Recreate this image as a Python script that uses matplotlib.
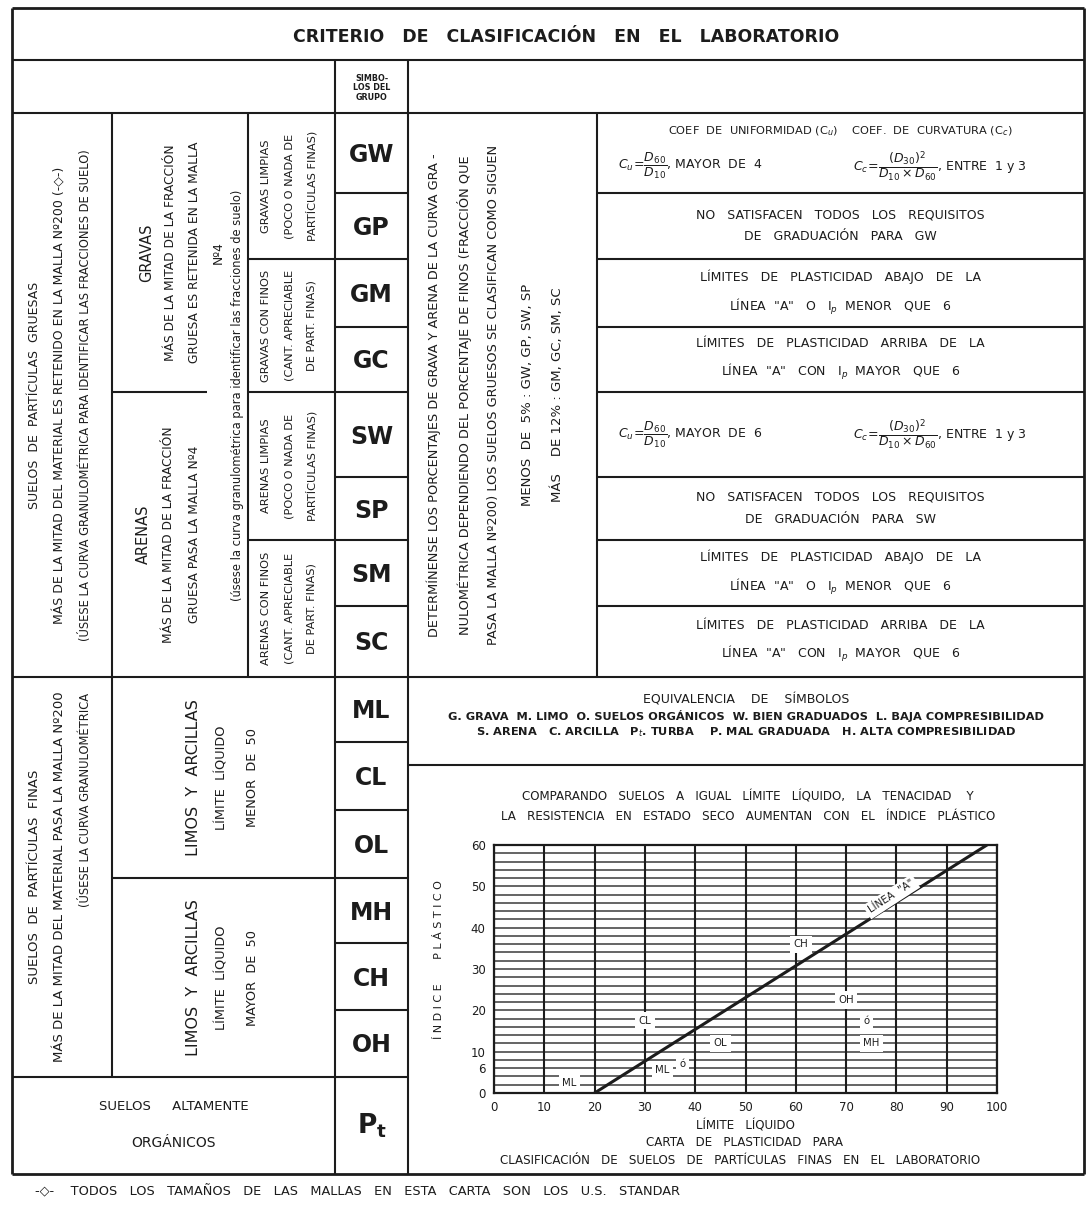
import matplotlib.pyplot as plt

W, H = 1086, 1206
ink = "#1c1c1c"

# ---- table content ----
title = "CRITERIO   DE   CLASIFICACIÓN   EN   EL   LABORATORIO"
symbol_header = "SIMBO-\nLOS DEL\nGRUPO"

coarse_symbols = ["GW", "GP", "GM", "GC", "SW", "SP", "SM", "SC"]
fine_symbols = ["ML", "CL", "OL", "MH", "CH", "OH"]
organic_symbol = r"P$_\mathregular{t}$"

coarse_col0 = ["SUELOS  DE  PARTÍCULAS  GRUESAS",
               "MÁS DE LA MITAD DEL MATERIAL ES RETENIDO EN LA MALLA Nº200 (-◇-)",
               "(ÚSESE LA CURVA GRANULOMÉTRICA PARA IDENTIFICAR LAS FRACCIONES DE SUELO)"]
gravel_text = ["GRAVAS", "MÁS DE LA MITAD DE LA FRACCIÓN",
               "GRUESA ES RETENIDA EN LA MALLA", "Nº4"]
sand_text = ["ARENAS", "MÁS DE LA MITAD DE LA FRACCIÓN", "GRUESA PASA LA MALLA Nº4"]
shared_note = "(úsese la curva granulométrica para identificar las fracciones de suelo)"
subgroups = [["GRAVAS LIMPIAS", "(POCO O NADA DE", "PARTÍCULAS FINAS)"],
             ["GRAVAS CON FINOS", "(CANT. APRECIABLE", "DE PART. FINAS)"],
             ["ARENAS LIMPIAS", "(POCO O NADA DE", "PARTÍCULAS FINAS)"],
             ["ARENAS CON FINOS", "(CANT. APRECIABLE", "DE PART. FINAS)"]]
fines_rule = ["DETERMÍNENSE LOS PORCENTAJES DE GRAVA Y ARENA DE LA CURVA GRA -",
              "NULOMÉTRICA DEPENDIENDO DEL PORCENTAJE DE FINOS (FRACCIÓN QUE",
              "PASA LA MALLA Nº200) LOS SUELOS GRUESOS SE CLASIFICAN COMO SIGUEN",
              "MENOS  DE  5% : GW, GP, SW, SP",
              "MÁS    DE 12% : GM, GC, SM, SC"]

grad_head = "COEF  DE  UNIFORMIDAD (C$_u$)    COEF.  DE  CURVATURA (C$_c$)"
cu_gravel = r"$C_u\!=\!\dfrac{D_{60}}{D_{10}}$, MAYOR  DE  4"
cu_sand = r"$C_u\!=\!\dfrac{D_{60}}{D_{10}}$, MAYOR  DE  6"
cc_text = r"$C_c\!=\!\dfrac{(D_{30})^2}{D_{10}\times D_{60}}$, ENTRE  1 y 3"
no_grad = "NO   SATISFACEN   TODOS   LOS   REQUISITOS\nDE   GRADUACIÓN   PARA   {}"
below_a = "LÍMITES   DE   PLASTICIDAD   ABAJO   DE   LA\nLÍNEA  \"A\"   O   I$_p$  MENOR   QUE   6"
above_a = "LÍMITES   DE   PLASTICIDAD   ARRIBA   DE   LA\nLÍNEA  \"A\"   CON   I$_p$  MAYOR   QUE   6"

fine_col0 = ["SUELOS  DE  PARTÍCULAS  FINAS",
             "MÁS DE LA MITAD DEL MATERIAL PASA LA MALLA Nº200",
             "(ÚSESE LA CURVA GRANULOMÉTRICA"]
low_ll = ["LIMOS  Y  ARCILLAS", "LÍMITE  LÍQUIDO", "MENOR  DE  50"]
high_ll = ["LIMOS  Y  ARCILLAS", "LÍMITE  LÍQUIDO", "MAYOR  DE  50"]
organic_text = ["SUELOS     ALTAMENTE", "ORGÁNICOS"]

equiv_title = "EQUIVALENCIA    DE    SÍMBOLOS"
equiv_rows = ["G. GRAVA  M. LIMO  O. SUELOS ORGÁNICOS  W. BIEN GRADUADOS  L. BAJA COMPRESIBILIDAD",
              "S. ARENA   C. ARCILLA   P$_t$. TURBA    P. MAL GRADUADA   H. ALTA COMPRESIBILIDAD"]
chart_note = ["COMPARANDO   SUELOS   A   IGUAL   LÍMITE   LÍQUIDO,   LA   TENACIDAD    Y",
              "LA   RESISTENCIA   EN   ESTADO   SECO   AUMENTAN   CON   EL   ÍNDICE   PLÁSTICO"]
chart_caption = ["LÍMITE   LÍQUIDO", "CARTA   DE   PLASTICIDAD   PARA",
                 "CLASIFICACIÓN   DE   SUELOS   DE   PARTÍCULAS   FINAS   EN   EL   LABORATORIO"]
footnote = "-◇-    TODOS   LOS   TAMAÑOS   DE   LAS   MALLAS   EN   ESTA   CARTA   SON   LOS   U.S.   STANDAR"

# ---- plasticity chart content ----
ll_ticks = [0, 10, 20, 30, 40, 50, 60, 70, 80, 90, 100]
pi_ticks = [0, 6, 10, 20, 30, 40, 50, 60]
aline_ll = [20, 98]
aline_pi = [0, 60]
zone_names = ["CL", "CH", "OH", "ó", "MH", "OL", "ML", "ó", "ML"]
zone_ll = [30, 61, 70, 74, 75, 45, 33.5, 37.5, 15]
zone_pi = [17.5, 36, 22.5, 17.5, 12, 12, 5.5, 7, 2.5]

# ---- layout (pixels) ----
top, title_bot, head_bot = 8, 60, 113
coarse_rows = [113, 193, 259, 327, 392, 477, 540, 606, 677]
fine_rows = [677, 742, 810, 878, 943, 1010, 1077]
bottom = 1174
xl, x1, x2, xs0, xs1, xc, xr = 12, 112, 248, 335, 408, 597, 1084
equiv_bot = 765

fig = plt.figure(figsize=(W / 100, H / 100), dpi=100)
ax = fig.add_axes([0, 0, 1, 1])
ax.set_xlim(0, W)
ax.set_ylim(H, 0)
ax.axis("off")


def hline(y, a, b, lw=1.5):
    ax.plot([a, b], [y, y], color=ink, lw=lw, solid_capstyle="butt")


def vline(x, a, b, lw=1.5):
    ax.plot([x, x], [a, b], color=ink, lw=lw, solid_capstyle="butt")


def txt(x, y, s, size=8, rot=0, weight="normal", **kw):
    ax.text(x, y, s, fontsize=size, rotation=rot, ha="center", va="center",
            color=ink, fontweight=weight, **kw)


# frame and grid of the table
hline(top, xl, xr, 2)
hline(title_bot, xl, xr)
hline(head_bot, xl, xr)
hline(fine_rows[0], xl, xr)
hline(bottom, xl, xr, 2)
vline(xl, top, bottom, 2)
vline(xr, top, bottom, 2)
vline(x1, head_bot, fine_rows[-1])
vline(x2, head_bot, fine_rows[0])
vline(xs0, title_bot, bottom)
vline(xs1, title_bot, bottom)
vline(xc, head_bot, fine_rows[0])
for y in coarse_rows[1:-1]:
    hline(y, xs0, xs1)
    hline(y, xc, xr)
for y in [coarse_rows[2], coarse_rows[6]]:
    hline(y, x2, xs0)
hline(coarse_rows[4], x1, 207)
hline(coarse_rows[4], x2, xs0)
for y in fine_rows[1:]:
    hline(y, xs0, xs1)
hline(fine_rows[3], x1, xs0)
hline(fine_rows[-1], xl, xs0)
hline(equiv_bot, xs1, xr)

# title and header
txt(566, 37, title, 12.5, weight="bold")
txt((xs0 + xs1) / 2, 88, symbol_header, 5.8, weight="bold", linespacing=1.1)

# symbols
for i, s in enumerate(coarse_symbols):
    txt((xs0 + xs1) / 2, (coarse_rows[i] + coarse_rows[i + 1]) / 2 + 2, s, 17, weight="bold")
for i, s in enumerate(fine_symbols):
    txt((xs0 + xs1) / 2, (fine_rows[i] + fine_rows[i + 1]) / 2 + 2, s, 17, weight="bold")
txt((xs0 + xs1) / 2, (fine_rows[-1] + bottom) / 2, organic_symbol, 19, weight="bold")

# coarse soils, rotated texts
cmid = (coarse_rows[0] + coarse_rows[-1]) / 2
for x, s, f in zip([35, 60, 86], coarse_col0, [9, 9, 8.3]):
    txt(x, cmid, s, f, 90)
gmid = (coarse_rows[0] + coarse_rows[4]) / 2
for x, s, f in zip([147, 171, 195, 218], gravel_text, [10.5, 8.8, 8.8, 8.8]):
    txt(x, gmid, s, f, 90)
smid = (coarse_rows[4] + coarse_rows[-1]) / 2
for x, s, f in zip([143, 169, 195], sand_text, [10.5, 8.8, 8.8]):
    txt(x, smid, s, f, 90)
txt(238, cmid, shared_note, 8.3, 90)
spans = [(0, 2), (2, 4), (4, 6), (6, 8)]
for (a, b), lines in zip(spans, subgroups):
    ym = (coarse_rows[a] + coarse_rows[b]) / 2
    for x, s in zip([266, 289, 312], lines):
        txt(x, ym, s, 8.2, 90)
for x, s, f in zip([434, 464, 494, 527, 557], fines_rule, [9.3, 9.3, 9.3, 9.5, 9.5]):
    txt(x, cmid, s, f, 90)

# coarse soils, criteria column
xm = (xc + xr) / 2
for i, s in enumerate(coarse_symbols):
    a, b = coarse_rows[i], coarse_rows[i + 1]
    ym = (a + b) / 2
    if s == "GW":
        txt(xm, a + 18, grad_head, 8.2)
        txt(690, a + 53, cu_gravel, 9)
        txt(940, a + 53, cc_text, 9)
    elif s == "SW":
        txt(690, ym, cu_sand, 9)
        txt(940, ym, cc_text, 9)
    elif s in ("GP", "SP"):
        txt(xm, ym, no_grad.format("GW" if s == "GP" else "SW"), 9, linespacing=1.9)
    elif s in ("GM", "SM"):
        txt(xm, ym, below_a, 9, linespacing=1.9)
    else:
        txt(xm, ym, above_a, 9, linespacing=1.9)

# fine soils
fmid = (fine_rows[0] + fine_rows[-1]) / 2
for x, s, f in zip([35, 60, 86], fine_col0, [9.5, 9.5, 8.3]):
    y = fmid if x != 86 else 800
    txt(x, y, s, f, 90)
lmid = (fine_rows[0] + fine_rows[3]) / 2
hmid = (fine_rows[3] + fine_rows[-1]) / 2
for x, a, b, f in zip([193, 222, 252], low_ll, high_ll, [11.5, 9.3, 9.3]):
    txt(x, lmid, a, f, 90)
    txt(x, hmid, b, f, 90)
txt((xl + xs0) / 2, 1106, organic_text[0], 9.5)
txt((xl + xs0) / 2, 1143, organic_text[1], 10)

# symbol equivalences
emid = (xs1 + xr) / 2
txt(emid, 700, equiv_title, 9)
txt(emid, 716, equiv_rows[0], 8.2, weight="bold")
txt(emid, 732, equiv_rows[1], 8.2, weight="bold")

# chart notes
txt(748, 797, chart_note[0], 8.6)
txt(748, 817, chart_note[1], 8.6)
txt(745, 1126, chart_caption[0], 8.6)
txt(745, 1143, chart_caption[1], 8.6)
txt(740, 1160, chart_caption[2], 8.6)
txt(439, 960, "Í N D I C E       P L Á S T I C O", 8, 90)
ax.text(35, 1192, footnote, fontsize=9.3, ha="left", va="center", color=ink)

# plasticity chart
cx0, cx1, cy0, cy1 = 494, 997, 845, 1093
cax = fig.add_axes([cx0 / W, 1 - cy1 / H, (cx1 - cx0) / W, (cy1 - cy0) / H])
cax.set_xlim(0, 100)
cax.set_ylim(0, 60)
for y in range(0, 61, 2):
    cax.axhline(y, color="#3a3a3a", lw=1.1, zorder=1)
for x in ll_ticks:
    cax.axvline(x, color=ink, lw=1.5, zorder=1)
cax.plot(aline_ll, aline_pi, color=ink, lw=2.2, zorder=3)
for name, x, y in zip(zone_names, zone_ll, zone_pi):
    cax.text(x, y, name, fontsize=7.3, ha="center", va="center", color=ink, zorder=4,
             bbox=dict(boxstyle="square,pad=0.35", fc="white", ec="none"))
cax.text(79, 47.5, 'LÍNEA  "A"', fontsize=7.3, rotation=33, rotation_mode="anchor",
         ha="center", va="center", color=ink, zorder=4,
         bbox=dict(boxstyle="square,pad=0.3", fc="white", ec="none"))
cax.set_xticks(ll_ticks)
cax.set_yticks(pi_ticks)
cax.tick_params(length=0, labelsize=8.5, colors=ink, pad=6)
for sp in cax.spines.values():
    sp.set_linewidth(1.6)
    sp.set_color(ink)

fig.savefig("out.png", dpi=100, facecolor="white")
